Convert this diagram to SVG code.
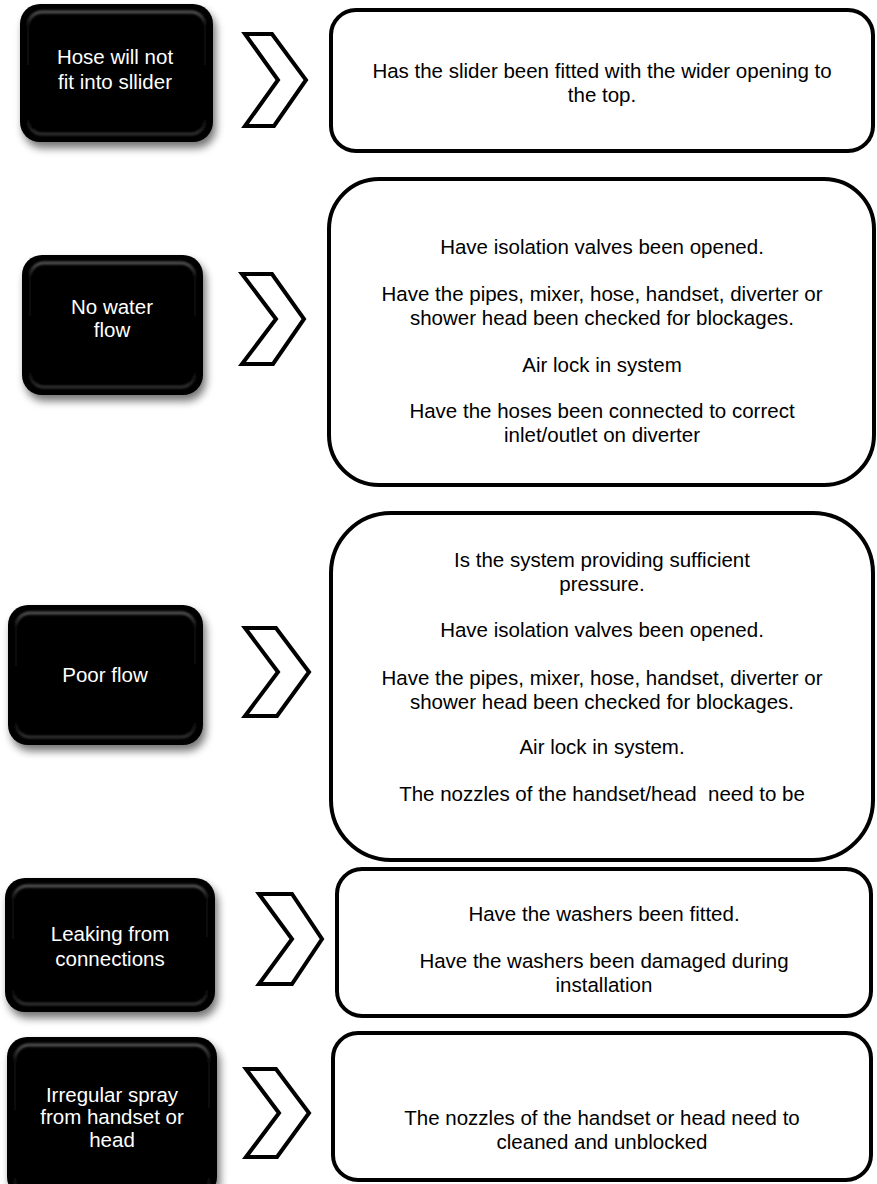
<svg xmlns="http://www.w3.org/2000/svg" width="877" height="1184" viewBox="0 0 877 1184">
<defs>
<filter id="sh" x="-20%" y="-20%" width="140%" height="150%">
<feGaussianBlur in="SourceAlpha" stdDeviation="4"/>
<feOffset dx="3" dy="6" result="b"/>
<feComponentTransfer><feFuncA type="linear" slope="0.55"/></feComponentTransfer>
<feMerge><feMergeNode/><feMergeNode in="SourceGraphic"/></feMerge>
</filter>
<linearGradient id="bev" x1="0" y1="0" x2="0" y2="1">
<stop offset="0" stop-color="#555"/>
<stop offset="0.12" stop-color="#080808"/>
<stop offset="0.88" stop-color="#050505"/>
<stop offset="1" stop-color="#333"/>
</linearGradient>
<filter id="soft"><feGaussianBlur stdDeviation="1"/></filter>
</defs>
<style>
.blk{fill:#000;}
.bev{fill:none;stroke:url(#bev);stroke-width:3;filter:url(#soft);}
.wb{fill:#fff;stroke:#000;stroke-width:4;}
.chev{fill:#fff;stroke:#000;stroke-width:4;stroke-linejoin:miter;}
.lt{font-family:"Liberation Sans",Arial,sans-serif;font-size:20.5px;fill:#fff;text-anchor:middle;}
.rt{font-family:"Liberation Sans",Arial,sans-serif;font-size:20.5px;fill:#000;text-anchor:middle;}
</style>
<rect width="877" height="1184" fill="#fff"/>

<g id="problem1">
<g filter="url(#sh)"><rect class="blk" x="20" y="4" width="193" height="138" rx="20"/></g>
<rect class="bev" x="28" y="12" width="177" height="122" rx="14"/>
<text class="lt" x="115" y="64">Hose will not</text>
<text class="lt" x="115" y="89">fit into sllider</text>
</g>
<g id="problem2">
<g filter="url(#sh)"><rect class="blk" x="22" y="255" width="181" height="140" rx="20"/></g>
<rect class="bev" x="30" y="263" width="165" height="124" rx="14"/>
<text class="lt" x="112" y="314">No water</text>
<text class="lt" x="112" y="337">flow</text>
</g>
<g id="problem3">
<g filter="url(#sh)"><rect class="blk" x="8" y="605" width="195" height="140" rx="20"/></g>
<rect class="bev" x="16" y="613" width="179" height="124" rx="14"/>
<text class="lt" x="105" y="682">Poor flow</text>
</g>
<g id="problem4">
<g filter="url(#sh)"><rect class="blk" x="5" y="878" width="210" height="134" rx="20"/></g>
<rect class="bev" x="13" y="886" width="194" height="118" rx="14"/>
<text class="lt" x="110" y="941">Leaking from</text>
<text class="lt" x="110" y="966">connections</text>
</g>
<g id="problem5">
<g filter="url(#sh)"><rect class="blk" x="7" y="1037" width="210" height="160" rx="20"/></g>
<rect class="bev" x="15" y="1045" width="194" height="150" rx="14"/>
<text class="lt" x="112" y="1102">Irregular spray</text>
<text class="lt" x="112" y="1124">from handset or</text>
<text class="lt" x="112" y="1147">head</text>
</g>

<g id="connectors">
<polygon class="chev" points="245,34 272,34 306,80 274,126 245,126 278,80"/>
<polygon class="chev" points="242,274 272,274 304,319 273,364 242,364 276,319"/>
<polygon class="chev" points="245,628 276,628 309,672 277,716 245,716 278,672"/>
<polygon class="chev" points="259,894 292,894 322,939 292,984 259,984 292,939"/>
<polygon class="chev" points="246,1069 276,1069 309,1113 277,1157 246,1157 279,1113"/>
</g>

<g id="answer1">
<rect class="wb" x="331" y="10" width="542" height="141" rx="25"/>
<text class="rt" x="602" y="78">Has the slider been fitted with the wider opening to</text>
<text class="rt" x="602" y="102">the top.</text>
</g>
<g id="answer2">
<rect class="wb" x="329" y="179" width="545" height="306" rx="50"/>
<text class="rt" x="602" y="254">Have isolation valves been opened.</text>
<text class="rt" x="602" y="301">Have the pipes, mixer, hose, handset, diverter or</text>
<text class="rt" x="602" y="325">shower head been checked for blockages.</text>
<text class="rt" x="602" y="372">Air lock in system</text>
<text class="rt" x="602" y="418">Have the hoses been connected to correct</text>
<text class="rt" x="602" y="442">inlet/outlet on diverter</text>
</g>
<g id="answer3">
<rect class="wb" x="331" y="513" width="542" height="347" rx="60"/>
<text class="rt" x="602" y="567">Is the system providing sufficient</text>
<text class="rt" x="602" y="591">pressure.</text>
<text class="rt" x="602" y="637">Have isolation valves been opened.</text>
<text class="rt" x="602" y="685">Have the pipes, mixer, hose, handset, diverter or</text>
<text class="rt" x="602" y="709">shower head been checked for blockages.</text>
<text class="rt" x="602" y="754">Air lock in system.</text>
<text class="rt" x="602" y="801" xml:space="preserve">The nozzles of the handset/head  need to be</text>
</g>
<g id="answer4">
<rect class="wb" x="337" y="869" width="534" height="147" rx="25"/>
<text class="rt" x="604" y="921">Have the washers been fitted.</text>
<text class="rt" x="604" y="968">Have the washers been damaged during</text>
<text class="rt" x="604" y="992">installation</text>
</g>
<g id="answer5">
<rect class="wb" x="333" y="1033" width="538" height="147" rx="25"/>
<text class="rt" x="602" y="1125">The nozzles of the handset or head need to</text>
<text class="rt" x="602" y="1149">cleaned and unblocked</text>
</g>
</svg>
